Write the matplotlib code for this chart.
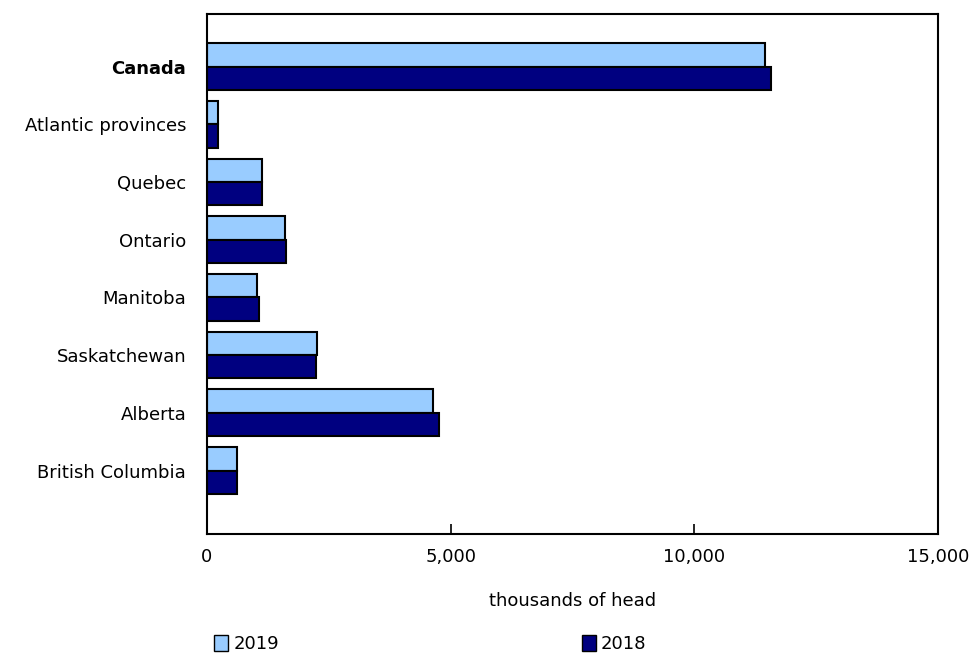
import numpy as np
import matplotlib
matplotlib.use("Agg")
import matplotlib.pyplot as plt
from matplotlib.patches import Patch
from matplotlib.ticker import FuncFormatter

regions = ["Canada", "Atlantic provinces", "Quebec", "Ontario", "Manitoba",
           "Saskatchewan", "Alberta", "British Columbia"]
values_2019 = [11450, 226, 1135, 1600, 1030, 2257, 4640, 616]
values_2018 = [11575, 226, 1130, 1620, 1070, 2237, 4760, 616]
series_labels = ["2019", "2018"]
x_ticks = [0, 5000, 10000, 15000]

plt.rcParams["font.family"] = ["DejaVu Sans"]
fs = 13

fig = plt.figure(figsize=(9.74, 6.53), dpi=100)
ax = fig.add_axes([207 / 974, 1 - 534 / 653, (938 - 207) / 974, (534 - 14) / 653])

y = np.arange(len(regions))
h = 0.405
ax.barh(y - h / 2, values_2019, height=h, color="#99CCFF", edgecolor="black", linewidth=1.5)
ax.barh(y + h / 2, values_2018, height=h, color="#000080", edgecolor="black", linewidth=1.5)

ax.set_xlim(0, 15000)
ax.set_ylim(8.1, -0.91)
ax.set_yticks(y)
ax.set_yticklabels(regions, fontsize=fs)
ax.get_yticklabels()[0].set_fontweight("bold")
ax.tick_params(axis="y", length=0, pad=15)

ax.set_xticks(x_ticks)
ax.xaxis.set_major_formatter(FuncFormatter(lambda v, p: f"{int(v):,}"))
ax.tick_params(axis="x", direction="in", length=7, width=1.2, labelsize=fs, pad=10)
ax.set_xlabel("thousands of head", fontsize=fs, labelpad=19)

for s in ax.spines.values():
    s.set_linewidth(1.5)

handles = [Patch(facecolor="#99CCFF", edgecolor="black"),
           Patch(facecolor="#000080", edgecolor="black")]
fig.legend(handles, series_labels, loc="lower left", bbox_to_anchor=(198 / 974, -0.025),
           ncol=2, frameon=False, fontsize=fs, handlelength=0.75, handleheight=1.0,
           handletextpad=0.3, columnspacing=16.8)

fig.savefig("out.png", dpi=100)
